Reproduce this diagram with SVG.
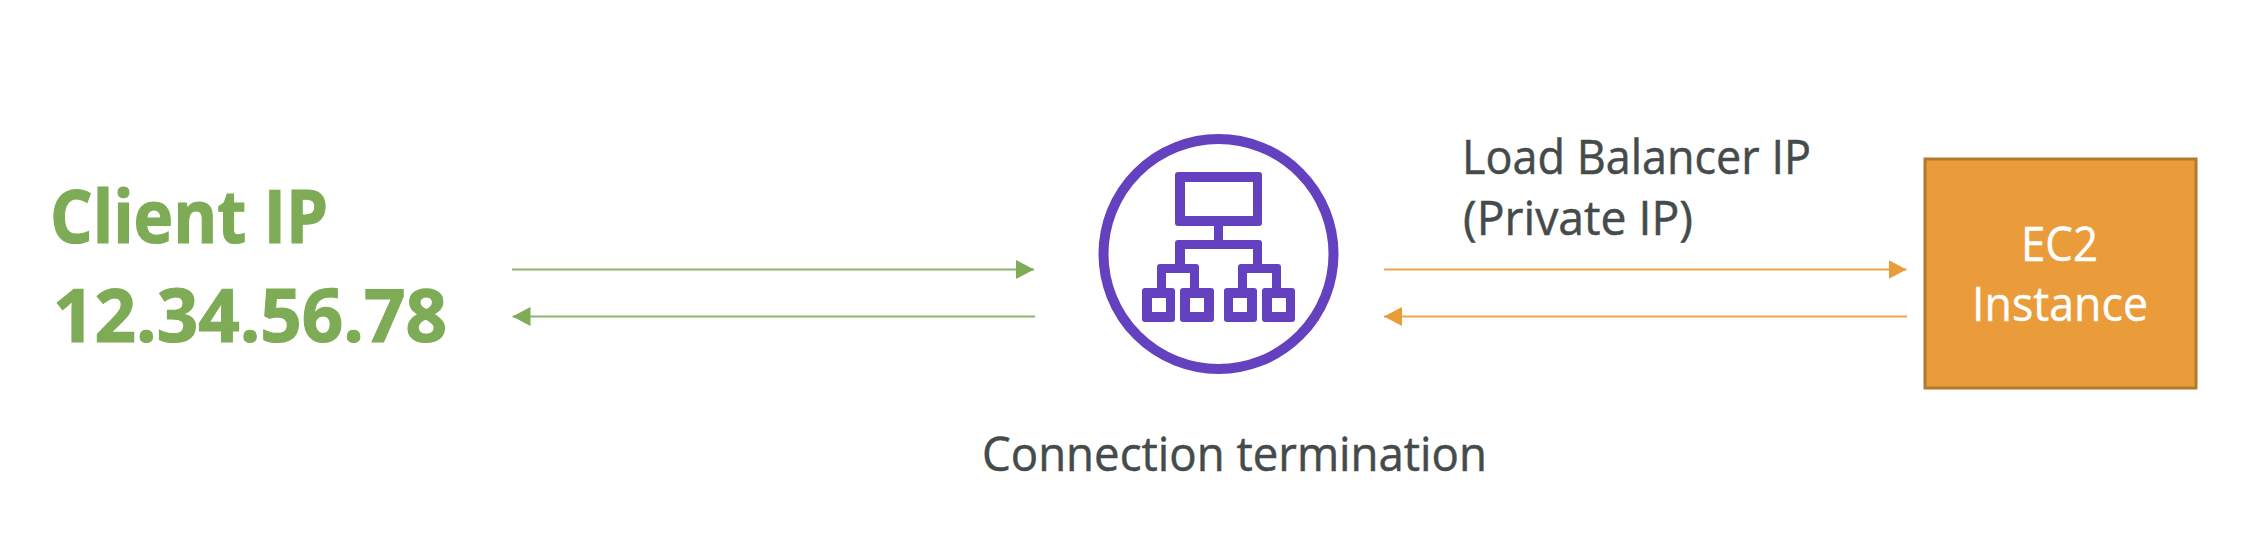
<svg xmlns="http://www.w3.org/2000/svg" width="2258" height="548" viewBox="0 0 2258 548">
<style>
text{font-family:"Open Sans","Noto Sans",sans-serif}
.lbl{font-size:47px;fill:#454b4b;stroke:#454b4b;stroke-width:.5}
.big{font-size:73px;font-weight:700;fill:#7eab55;stroke:#7eab55;stroke-width:1.2}
.ec2{font-size:47px;fill:#fff;stroke:#fff;stroke-width:.4}
.g{stroke:#8cb56a;stroke-width:2;fill:none}
.o{stroke:#eda64b;stroke-width:2;fill:none}
.p{fill:#6441bf}
</style>
<defs>
<marker id="ag" markerUnits="userSpaceOnUse" markerWidth="19" markerHeight="19" refX="18" refY="9.5" orient="auto-start-reverse"><path d="M0 0L18 9.5L0 19Z" fill="#7eab55"/></marker>
<marker id="ao" markerUnits="userSpaceOnUse" markerWidth="19" markerHeight="19" refX="18" refY="9.5" orient="auto-start-reverse"><path d="M0 0L18 9.5L0 19Z" fill="#e99c39"/></marker>
</defs>
<rect width="2258" height="548" fill="#fff"/>
<g id="connectors">
<line class="g" x1="512" y1="269.5" x2="1034" y2="269.5" marker-end="url(#ag)"/>
<line class="g" x1="1035" y1="316.5" x2="512.5" y2="316.5" marker-end="url(#ag)"/>
<line class="o" x1="1384" y1="269.5" x2="1906.5" y2="269.5" marker-end="url(#ao)"/>
<line class="o" x1="1907" y1="316.5" x2="1384" y2="316.5" marker-end="url(#ao)"/>
</g>
<g id="client">
<text class="big" x="50" y="243" textLength="278" lengthAdjust="spacingAndGlyphs">Client IP</text>
<text class="big" x="53" y="342" textLength="394" lengthAdjust="spacingAndGlyphs">12.34.56.78</text>
</g>
<g id="load-balancer">
<circle cx="1218.5" cy="254" r="115" fill="#fff" stroke="#6441bf" stroke-width="10"/>
<path class="p" fill-rule="evenodd" d="M1178 172H1259a3 3 0 0 1 3 3V223a3 3 0 0 1-3 3H1223V240H1259a3 3 0 0 1 3 3V264H1278a3 3 0 0 1 3 3V288H1292a3 3 0 0 1 3 3V319a3 3 0 0 1-3 3H1265a3 3 0 0 1-3-3V291a3 3 0 0 1 3-3H1272V273H1247V288H1254a3 3 0 0 1 3 3V319a3 3 0 0 1-3 3H1227a3 3 0 0 1-3-3V291a3 3 0 0 1 3-3H1238V267a3 3 0 0 1 3-3H1253V249H1185V264H1196a3 3 0 0 1 3 3V288H1211a3 3 0 0 1 3 3V319a3 3 0 0 1-3 3H1183a3 3 0 0 1-3-3V291a3 3 0 0 1 3-3H1190V273H1166V288H1172a3 3 0 0 1 3 3V319a3 3 0 0 1-3 3H1145a3 3 0 0 1-3-3V291a3 3 0 0 1 3-3H1157V267a3 3 0 0 1 3-3H1175V243a3 3 0 0 1 3-3H1214V226H1178a3 3 0 0 1-3-3V175a3 3 0 0 1 3-3ZM1185 182V216H1253V182ZM1152 298V312H1166V298ZM1190 298V312H1204V298ZM1233 298V312H1247V298ZM1272 298V312H1286V298Z"/>
<text class="lbl" x="982" y="471" textLength="505" lengthAdjust="spacingAndGlyphs">Connection termination</text>
</g>
<g id="lb-ip-label">
<text class="lbl" x="1462" y="174" textLength="349" lengthAdjust="spacingAndGlyphs">Load Balancer IP</text>
<text class="lbl" x="1463" y="235" textLength="230" lengthAdjust="spacingAndGlyphs">(Private IP)</text>
</g>
<g id="ec2">
<rect x="1925" y="159" width="271" height="229" fill="#e99c39" stroke="#b07a2c" stroke-width="3"/>
<text class="ec2" x="2021" y="261" textLength="77" lengthAdjust="spacingAndGlyphs">EC2</text>
<text class="ec2" x="1972" y="321" textLength="176" lengthAdjust="spacingAndGlyphs">Instance</text>
</g>
</svg>
